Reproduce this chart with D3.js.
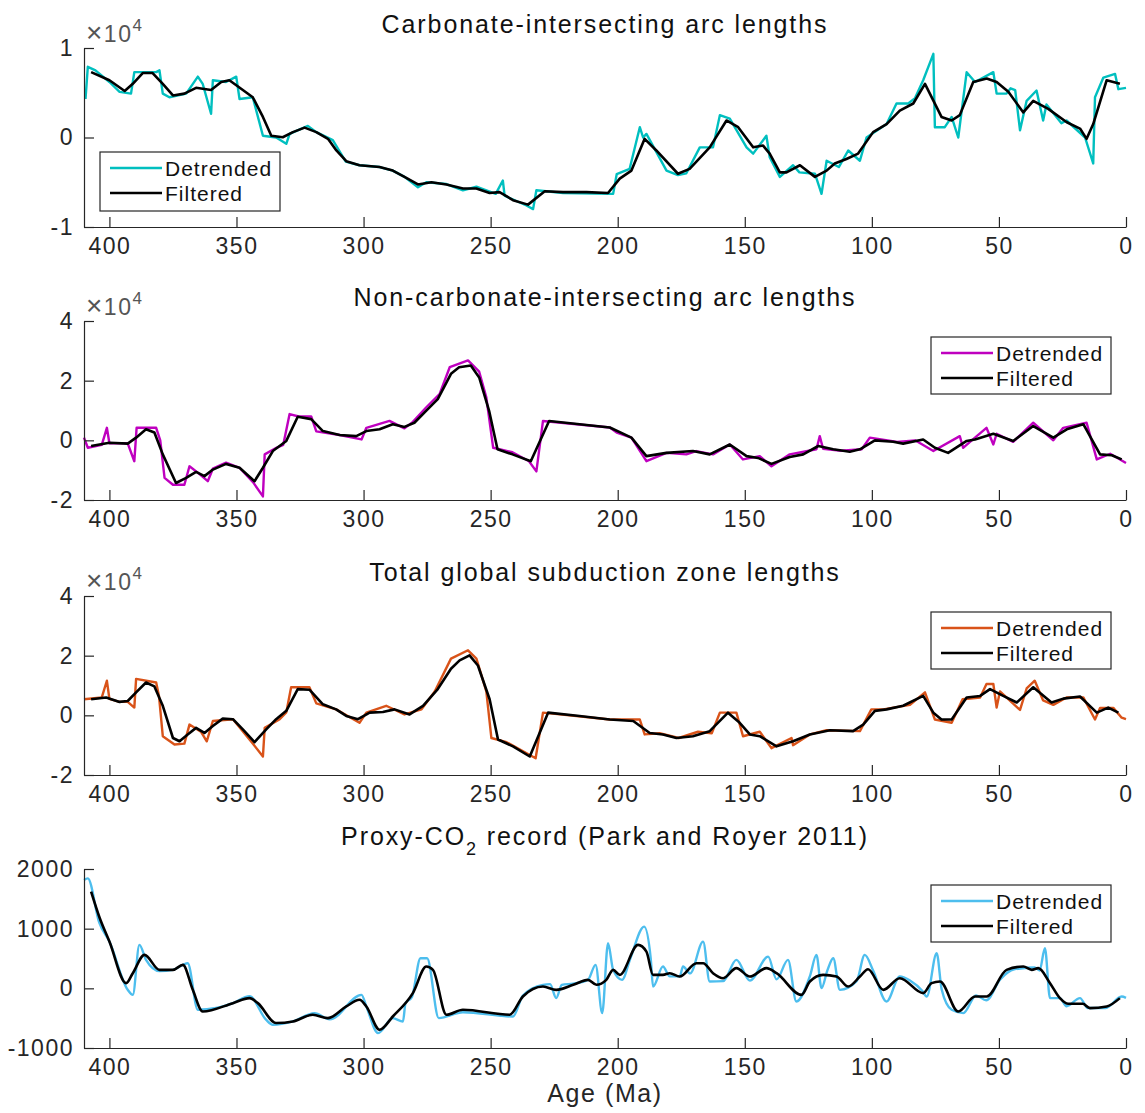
<!DOCTYPE html>
<html>
<head>
<meta charset="utf-8">
<script src="https://cdn.jsdelivr.net/npm/d3@7"></script>
<style>
  body { margin: 0; background: #fff; }
  text { font-family: "Liberation Sans", Arial, Helvetica, sans-serif; fill: #262626; }
</style>
</head>
<body>
<script>
// ---- data (values of panels 1-3 in units of 10^4) ----
const carbDetAge = [409.4,408.5,405.5,400,396,391.5,390.2,381.6,380.3,379,376.4,369.8,365.2,363.3,360,359.3,354.1,350.1,348.8,343.6,339.6,334.4,330.4,329.1,321.9,318.6,312.1,307,301.6,293.7,288.5,283.9,278.6,275.3,267.4,260.9,255.6,248,245.2,244.5,235.9,233.3,232,221.5,201.8,200.4,195.3,191.3,190,188.7,180.8,176.3,173,167.7,162.5,159.8,155.9,149.3,146.7,141.5,140.2,136.2,131,128.5,122.4,119.8,117.8,113,109.3,104.7,102.1,94.2,90.3,85.7,83,79.8,75.8,75.2,71.3,68.6,66,62.7,59.4,52.2,50.9,47,45.4,43.6,41.7,39.1,35.2,32.6,31.3,25.4,23.4,16.1,12.9,12.2,8.9,4.3,3,0];
const carbDetVal = [0.43,0.79,0.75,0.62,0.51,0.49,0.73,0.73,0.75,0.49,0.45,0.49,0.68,0.60,0.265,0.64,0.62,0.68,0.43,0.45,0.02,0.00,-0.07,0.04,0.13,0.06,-0.03,-0.27,-0.31,-0.33,-0.37,-0.44,-0.555,-0.50,-0.52,-0.59,-0.55,-0.63,-0.48,-0.65,-0.76,-0.80,-0.59,-0.62,-0.63,-0.41,-0.35,0.115,0.0,0.04,-0.37,-0.42,-0.40,-0.11,-0.11,0.25,0.21,-0.11,-0.18,0.02,-0.22,-0.44,-0.31,-0.39,-0.405,-0.63,-0.26,-0.33,-0.145,-0.26,0.0,0.15,0.38,0.38,0.44,0.64,0.935,0.115,0.115,0.23,0.0,0.73,0.62,0.73,0.49,0.49,0.55,0.53,0.08,0.41,0.525,0.19,0.37,0.16,0.19,0.0,-0.29,0.45,0.67,0.71,0.54,0.555];
const carbFiltAge = [407.2,400,394,390.8,386.9,383,379,375,370.5,365.9,360,356,352.8,347.5,343.6,339.6,336.3,331.8,327.8,323.2,318.6,314,310.7,306.8,301.6,293.7,288.5,283.9,278.6,273.3,267.4,260.9,255.6,250.4,246.5,241.2,235.3,228.7,221.5,212.3,203.8,199.2,194.6,189.4,184.8,176.3,171.7,163.8,157.2,152.6,146.7,142.8,140.2,136.2,133.6,128.3,122.4,117.8,114.6,110,105.4,99.5,94.2,89,83.7,79.1,72.6,68.6,65.4,60.1,54.8,50.9,46.3,40.4,36.5,30.6,23.3,18.1,15.5,12.9,7.6,2.4];
const carbFiltVal = [0.73,0.64,0.52,0.60,0.72,0.72,0.60,0.47,0.49,0.555,0.53,0.62,0.64,0.53,0.45,0.23,0.02,0.003,0.06,0.11,0.06,-0.015,-0.145,-0.265,-0.31,-0.33,-0.37,-0.44,-0.525,-0.50,-0.525,-0.57,-0.57,-0.62,-0.61,-0.70,-0.75,-0.60,-0.61,-0.61,-0.62,-0.46,-0.37,-0.015,-0.145,-0.405,-0.35,-0.11,0.19,0.115,-0.11,-0.09,-0.18,-0.39,-0.39,-0.31,-0.44,-0.37,-0.29,-0.24,-0.18,0.06,0.15,0.30,0.38,0.60,0.23,0.19,0.25,0.62,0.66,0.62,0.51,0.28,0.41,0.32,0.17,0.10,-0.015,0.15,0.64,0.60];

const nonDetAge = [410,408.5,403,401,400,392.8,390.2,389.3,381.6,380,378.3,375,370.5,368.5,365,361.3,359.3,354.1,348.8,343.5,339.6,338.9,334.3,331.6,329.1,325.5,320.6,318.6,309.4,300.8,298.9,289.8,283.9,280.6,275.4,270.1,266.1,258.9,254.5,251.7,249,241.4,234.9,232,229.4,203.1,200.4,194.6,188.7,180.8,173,169.1,162.5,155.9,150.7,144.1,139.5,132.3,121.8,120.5,119.2,112,104,100.8,90,83,75.8,65.4,64.1,60,54.9,52.2,50.9,44.4,36.5,28.6,24.7,15.5,11.5,6.2,0];
const nonDetVal = [0.09,-0.25,-0.15,0.42,-0.10,-0.10,-0.70,0.42,0.42,0.0,-1.26,-1.49,-1.49,-0.87,-1.10,-1.37,-0.95,-0.75,-0.92,-1.40,-1.88,-0.47,-0.25,-0.15,0.88,0.80,0.80,0.30,0.18,0.03,0.42,0.65,0.40,0.62,1.10,1.55,2.45,2.68,2.30,1.44,-0.25,-0.40,-0.70,-1.04,0.65,0.43,0.26,0.09,-0.70,-0.42,-0.47,-0.36,-0.47,-0.14,-0.64,-0.53,-0.87,-0.47,-0.30,0.14,-0.28,-0.35,-0.30,0.09,-0.05,0.0,-0.36,0.14,-0.25,0.05,0.42,-0.14,0.22,-0.05,0.59,0.0,0.42,0.59,-0.64,-0.45,-0.76];
const nonFiltAge = [407.2,400,392.8,389.5,385.6,382.3,379,373.8,369.8,365.9,362.6,359.3,354.1,348.8,342.9,339.6,335.7,330.4,325.9,320.6,316,309.4,302.9,298.9,293.7,288.5,283.9,280,275.4,270.8,265.6,262.4,257.8,254.5,250.6,247.3,241.4,234.2,227,215,203.1,194.6,188.7,180.8,170.4,163.8,155.9,149.3,144.8,139.5,132.3,127,121.1,115.2,108.7,104.7,98.8,91.6,87.7,79.8,75.2,70,62.7,59.4,52.2,44.4,36.5,28.6,23.3,16.8,10.2,5.6,1.7];
const nonFiltVal = [-0.19,-0.08,-0.11,0.09,0.37,0.26,-0.47,-1.43,-1.26,-1.06,-1.20,-0.98,-0.79,-0.92,-1.37,-0.92,-0.36,-0.02,0.79,0.71,0.31,0.18,0.14,0.31,0.37,0.54,0.45,0.59,0.99,1.38,2.23,2.45,2.51,2.11,0.99,-0.30,-0.47,-0.70,0.65,0.54,0.43,0.09,-0.53,-0.42,-0.36,-0.47,-0.14,-0.53,-0.59,-0.79,-0.56,-0.47,-0.19,-0.30,-0.38,-0.30,0.0,-0.05,-0.11,0.03,-0.25,-0.42,-0.02,0.03,0.22,-0.02,0.48,0.09,0.37,0.54,-0.47,-0.50,-0.64];

const totDetAge = [410,403,401,400,396,392.8,390.2,389.5,381.6,380.5,379,374.4,370.5,368.5,364,361.7,359.3,351.4,344,339.6,338.9,333,330.4,328.5,321.3,318.6,310.8,301.6,298.9,291.1,283.9,277.2,272,265.6,258.9,255.6,251.7,249.7,243.7,232.3,229.4,203.1,191.3,189.4,183.5,176,168.4,163,159.8,153.3,150.7,144.1,139.5,131.6,131,124.4,117.8,104.7,100.2,95.5,85,79.1,75.2,68.6,64.3,57.4,54.9,52.2,50.9,49.6,41.7,39.1,35.9,32.6,28.6,23.4,16.8,12.2,10.2,5,1.7,0];
const totDetVal = [0.54,0.60,1.16,0.55,0.45,0.45,0.26,1.22,1.10,0.65,-0.70,-0.98,-0.95,-0.31,-0.55,-0.87,-0.19,-0.13,-0.90,-1.38,-0.42,-0.13,0.10,0.94,0.94,0.40,0.20,-0.25,0.09,0.32,0.03,0.20,0.80,1.90,2.18,1.90,0.80,-0.76,-0.90,-1.44,0.09,-0.14,-0.14,-0.64,-0.60,-0.76,-0.55,-0.60,0.09,0.09,-0.70,-0.55,-1.10,-0.76,-1.0,-0.64,-0.50,-0.53,0.20,0.20,0.35,0.77,-0.14,-0.25,0.54,0.60,1.05,1.05,0.26,0.80,0.18,0.90,1.16,0.50,0.35,0.60,0.60,-0.14,0.25,0.25,-0.08,-0.13];
const totFiltAge = [407.2,401.3,396,392.8,389.5,385.6,382.3,379,375,372.4,369.2,365.9,362.6,359.3,355.4,351.4,347.5,342.9,338.3,334.4,330.4,325.9,321.3,316,310.8,306.8,302.2,297.6,292.4,287.8,281.9,276.6,270.8,265.6,262.2,258.3,255,250.4,247.1,241.2,234.6,227.4,215,203.1,193.9,187.4,182.2,176.9,170.4,163.8,156.6,152,148,144.1,137.5,131,124.4,116.5,107.4,103.4,98.8,94.2,87.7,79.8,75.8,72.6,68.6,62.7,57.4,53.5,48.3,43,36.5,29.3,24.7,18.1,11.5,7,3];
const totFiltVal = [0.54,0.60,0.45,0.48,0.77,1.10,0.97,0.32,-0.76,-0.87,-0.64,-0.42,-0.59,-0.36,-0.11,-0.13,-0.47,-0.90,-0.47,-0.13,0.15,0.88,0.86,0.37,0.20,-0.02,-0.13,0.09,0.11,0.20,0.03,0.32,0.88,1.56,1.84,2.01,1.67,0.54,-0.81,-1.04,-1.38,0.09,-0.02,-0.14,-0.19,-0.59,-0.64,-0.76,-0.70,-0.53,0.09,-0.25,-0.64,-0.70,-1.04,-0.87,-0.64,-0.50,-0.53,-0.31,0.15,0.20,0.32,0.65,0.09,-0.14,-0.14,0.60,0.65,0.88,0.65,0.43,0.94,0.43,0.56,0.63,0.09,0.26,0.09];

const co2DetAge = [410,408.5,404,400,392.8,390.8,388.2,385.6,380.3,375,369.2,365.2,358,351.4,344.9,338.3,335.7,327.8,319.3,313.3,300.8,298.9,294.3,288.5,284.5,283.5,281,277.6,275,270.4,260.9,241.2,237.3,229.4,226.6,224.2,222,217.5,211.7,208.7,206.1,203.8,201.8,198.3,195,189.6,187,186.1,182.2,179.5,175.6,174.3,171.5,166.4,163.8,158.5,153.3,148,140.8,137.5,133,129.7,124.4,121.8,119.8,117.5,115.2,112.6,106,102.8,99.5,94.2,89,85,80,78.4,74.5,72.5,68.6,64,59,55,49.5,44,36,34,31.9,29.9,26,23.4,18.1,15,8,1.7,0];
const co2DetVal = [1815,1843,1100,783,-25,-109,728,477,290,310,421,-360,-330,-248,-130,-530,-611,-555,-415,-520,-109,-304,-750,-500,-555,-250,-150,505,505,-499,-400,-472,-120,59,70,-164,59,80,142,393,-415,756,310,142,505,1034,500,30,365,200,200,365,250,783,114,120,477,130,532,150,477,-221,200,560,3,300,505,-25,120,560,300,-221,200,130,-50,-137,588,-25,-360,-415,-120,-200,150,320,350,300,672,-164,-164,-300,-164,-330,-330,-137,-160];
const co2FiltAge = [407.2,404,400,393.4,390.8,386.2,380.3,375,371.1,367.2,363.3,351.4,344.9,341.6,334.4,327.8,320,314,306.8,301.6,298.9,293.7,288.5,280.6,275.3,272.7,267.4,260.9,242.5,237.3,229.4,224.2,217.5,211.7,208.4,204.5,201.8,199.2,192,188.7,186.1,182.2,179.5,175.6,169,166.4,162.5,158.5,153.3,148,141.5,137.5,127.7,124.4,119.2,113.9,109.3,104.7,101.5,95.5,89,79.8,76.5,73.2,66,59.4,54.8,47,40.4,37.1,34.5,29.9,26,22.7,17,14.2,7.6,2.4];
const co2FiltVal = [1620,1200,783,87,254,560,310,310,393,-25,-388,-248,-164,-248,-582,-555,-443,-499,-304,-192,-304,-694,-472,-80,365,310,-443,-360,-443,-137,30,-25,59,142,59,142,310,226,728,616,226,226,254,198,421,421,254,170,338,198,338,254,-109,114,226,198,30,198,321,-25,170,-80,87,114,-388,-137,-137,310,365,310,338,87,-164,-259,-259,-331,-304,-164];

const ageTicks = [400, 350, 300, 250, 200, 150, 100, 50, 0];

// ---- layout ----
const width = 1145, height = 1113;
const left = 84, right = 1126, panelH = 179;
const panelTops = [48, 321, 596, 869];

const svg = d3.select('body')
    .append('svg')
    .attr('width', width)
    .attr('height', height);

const x = d3.scaleLinear().domain([410, 0]).range([left, right]);

const panels = [
  {title: 'Carbonate-intersecting arc lengths', color: '#00bfbf', yDom: [-1, 1], yTicks: [-1, 0, 1], exp: true,
   detAge: carbDetAge, det: carbDetVal, filtAge: carbFiltAge, filt: carbFiltVal, legend: [100, 152], smooth: false},
  {title: 'Non-carbonate-intersecting arc lengths', color: '#bf00bf', yDom: [-2, 4], yTicks: [-2, 0, 2, 4], exp: true,
   detAge: nonDetAge, det: nonDetVal, filtAge: nonFiltAge, filt: nonFiltVal, legend: [931, 337], smooth: false},
  {title: 'Total global subduction zone lengths', color: '#d95319', yDom: [-2, 4], yTicks: [-2, 0, 2, 4], exp: true,
   detAge: totDetAge, det: totDetVal, filtAge: totFiltAge, filt: totFiltVal, legend: [931, 612], smooth: false},
  {title: null, color: '#4dbeee', yDom: [-1000, 2000], yTicks: [-1000, 0, 1000, 2000], exp: false,
   detAge: co2DetAge, det: co2DetVal, filtAge: co2FiltAge, filt: co2FiltVal, legend: [931, 885], smooth: true}
];

panels.forEach((p, i) => {
  const top = panelTops[i];
  const y = d3.scaleLinear().domain(p.yDom).range([top + panelH, top]);
  const g = svg.append('g');

  // lines (the CO2 record is drawn as a smooth curve)
  const line = d3.line()
      .x(d => x(d[0]))
      .y(d => y(d[1]))
      .curve(p.smooth ? d3.curveMonotoneX : d3.curveLinear);
  g.append('path')
      .datum(p.detAge.map((a, k) => [a, p.det[k]]))
      .attr('fill', 'none')
      .attr('stroke', p.color)
      .attr('stroke-width', 2.4)
      .attr('stroke-linejoin', 'round')
      .attr('d', line);
  g.append('path')
      .datum(p.filtAge.map((a, k) => [a, p.filt[k]]))
      .attr('fill', 'none')
      .attr('stroke', '#000')
      .attr('stroke-width', 2.6)
      .attr('stroke-linejoin', 'round')
      .attr('d', line);

  // axes, ticks pointing inward
  const xAxis = d3.axisBottom(x)
      .tickValues(ageTicks)
      .tickFormat(d => String(d))
      .tickSizeInner(-10).tickSizeOuter(0).tickPadding(11);
  const yAxis = d3.axisLeft(y)
      .tickValues(p.yTicks)
      .tickFormat(d => String(d))
      .tickSizeInner(-10).tickSizeOuter(0).tickPadding(10);

  const xg = g.append('g')
      .attr('transform', `translate(0, ${top + panelH})`)
      .call(xAxis);
  const yg = g.append('g')
      .attr('transform', `translate(${left}, 0)`)
      .call(yAxis);
  [xg, yg].forEach(a => {
    a.attr('font-family', null).attr('font-size', null);
    a.select('.domain').attr('stroke', '#262626').attr('stroke-width', 1.2);
    a.selectAll('.tick line').attr('stroke', '#262626').attr('stroke-width', 1.2);
    a.selectAll('.tick text').style('font-size', '23px').style('letter-spacing', '1.5px').attr('fill', '#262626');
  });

  // exponent label
  if (p.exp) {
    const t = g.append('text')
        .attr('x', 86)
        .attr('y', top - 6)
        .style('font-size', '23px')
        .style('letter-spacing', '1.5px')
        .style('fill', '#555');
    t.append('tspan').style('font-size', '28px').text('\u00d7');
    t.append('tspan').text('10');
    t.append('tspan').attr('dy', -11).style('font-size', '17px').text('4');
  }

  // title
  const tt = g.append('text')
      .attr('x', (left + right) / 2)
      .attr('y', p.title ? top - 15 : top - 24)
      .attr('text-anchor', 'middle')
      .style('font-size', '25px')
      .style('letter-spacing', '1.9px')
      .style('fill', '#111');
  if (p.title) {
    tt.text(p.title);
  } else {
    tt.append('tspan').text('Proxy-CO');
    tt.append('tspan').attr('dy', 10).style('font-size', '18px').text('2');
    tt.append('tspan').attr('dy', -10).text(' record (Park and Royer 2011)');
  }

  // legend
  const [lx, ly] = p.legend;
  const lg = g.append('g').attr('transform', `translate(${lx}, ${ly})`);
  lg.append('rect')
      .attr('width', 180).attr('height', i === 0 ? 59 : 57)
      .attr('fill', '#fff').attr('stroke', '#262626').attr('stroke-width', 1.2);
  [['Detrended', p.color, 2.4], ['Filtered', '#000', 2.6]].forEach((e, k) => {
    const yy = 16 + k * 25;
    lg.append('line')
        .attr('x1', 10).attr('x2', 62).attr('y1', yy).attr('y2', yy)
        .attr('stroke', e[1]).attr('stroke-width', e[2]);
    lg.append('text')
        .attr('x', 65).attr('y', yy + 8)
        .style('font-size', '21px')
        .style('letter-spacing', '1px')
        .style('fill', '#111')
        .text(e[0]);
  });
});

// x axis label
svg.append('text')
    .attr('x', (left + right) / 2)
    .attr('y', 1102)
    .attr('text-anchor', 'middle')
    .style('font-size', '25px')
    .style('letter-spacing', '1.6px')
    .style('fill', '#262626')
    .text('Age (Ma)');
</script>
</body>
</html>
